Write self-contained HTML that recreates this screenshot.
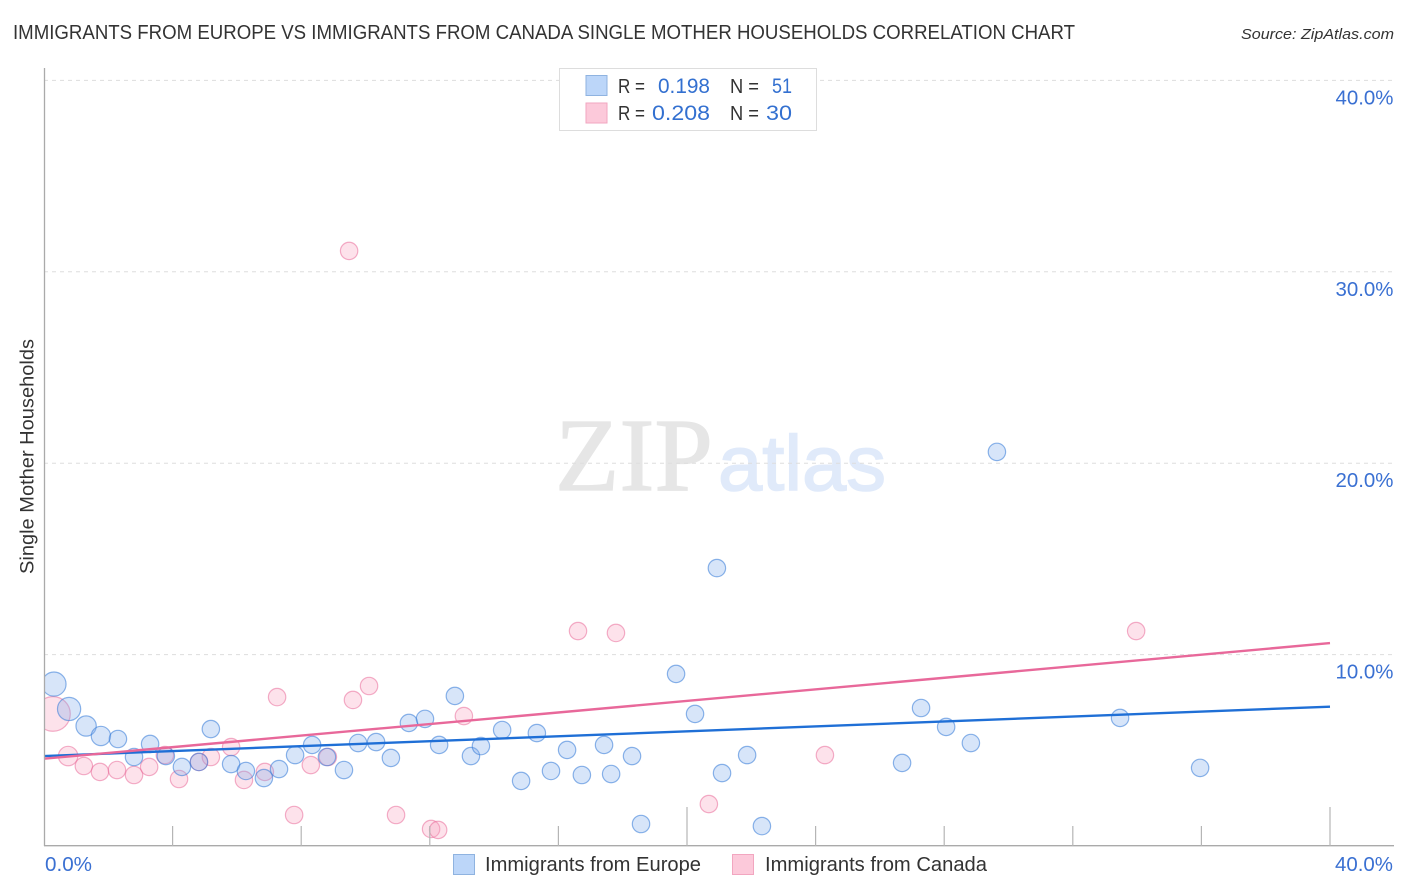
<!DOCTYPE html>
<html lang="en">
<head>
<meta charset="utf-8">
<title>Immigrants from Europe vs Immigrants from Canada Single Mother Households Correlation Chart</title>
<style>
html,body{margin:0;padding:0;background:#fff;width:1406px;height:892px;overflow:hidden}
svg{display:block;font-family:"Liberation Sans",sans-serif}
</style>
</head>
<body>
<svg id="chart" xmlns="http://www.w3.org/2000/svg" width="1406" height="892" viewBox="0 0 1406 892">
  <defs><clipPath id="plot-clip"><rect x="44.5" y="60" width="1350" height="786"/></clipPath></defs>
  <rect width="1406" height="892" fill="#fff"/>
  <text x="13" y="39" font-size="20" fill="#333" textLength="1062" lengthAdjust="spacingAndGlyphs">IMMIGRANTS FROM EUROPE VS IMMIGRANTS FROM CANADA SINGLE MOTHER HOUSEHOLDS CORRELATION CHART</text>
  <text x="1241" y="39" font-size="15" font-style="italic" fill="#333" textLength="153" lengthAdjust="spacingAndGlyphs">Source: ZipAtlas.com</text>
  <g>
    <text x="555" y="490" font-family="'Liberation Serif',serif" font-size="104" fill="#e6e6e6" stroke="#e6e6e6" stroke-width="1.2" textLength="158" lengthAdjust="spacingAndGlyphs">ZIP</text>
    <text x="718" y="490" font-size="78" fill="#e0eafa" stroke="#e0eafa" stroke-width="1.5" textLength="168" lengthAdjust="spacingAndGlyphs">atlas</text>
  </g>
  <g id="grid"></g>
  <g id="points" clip-path="url(#plot-clip)"></g>
  <g id="trends"></g>
  <g id="axes">
    <line x1="44.5" y1="68" x2="44.5" y2="846" stroke="#aaa" stroke-width="1.3"/>
    <line x1="44" y1="845.7" x2="1394" y2="845.7" stroke="#aaa" stroke-width="1.3"/>
  </g>
  <g id="x-ticks"></g>
  <g id="y-labels"></g>
  <g id="x-labels"></g>
  <text transform="translate(33.5,574) rotate(-90)" font-size="19" fill="#333" textLength="235" lengthAdjust="spacingAndGlyphs">Single Mother Households</text>
  <g>
    <rect x="559.5" y="68.5" width="257" height="62" fill="#fff" stroke="#ddd" stroke-width="1"/>
    <rect x="586" y="75.500" width="21" height="20" fill="#bcd6f9" stroke="#8fb3e0" stroke-width="1"/>
    <rect x="586" y="103" width="21" height="20" fill="#fcc9da" stroke="#f2a6c0" stroke-width="1"/>
    <text x="618" y="93" font-size="20" fill="#333" textLength="27" lengthAdjust="spacingAndGlyphs">R =</text>
    <text x="658" y="93" font-size="21" fill="#3370d0" textLength="52" lengthAdjust="spacingAndGlyphs">0.198</text>
    <text x="730" y="93" font-size="20" fill="#333" textLength="29" lengthAdjust="spacingAndGlyphs">N =</text>
    <text x="772" y="93" font-size="21" fill="#3370d0" textLength="20" lengthAdjust="spacingAndGlyphs">51</text>
    <text x="618" y="120" font-size="20" fill="#333" textLength="27" lengthAdjust="spacingAndGlyphs">R =</text>
    <text x="652" y="120" font-size="21" fill="#3370d0" textLength="58" lengthAdjust="spacingAndGlyphs">0.208</text>
    <text x="730" y="120" font-size="20" fill="#333" textLength="29" lengthAdjust="spacingAndGlyphs">N =</text>
    <text x="766" y="120" font-size="21" fill="#3370d0" textLength="26" lengthAdjust="spacingAndGlyphs">30</text>
  </g>
  <g>
    <rect x="453.500" y="854.500" width="21" height="20" fill="#bcd6f9" stroke="#8fb3e0" stroke-width="1"/>
    <text x="485" y="871" font-size="20" fill="#333" textLength="216" lengthAdjust="spacingAndGlyphs">Immigrants from Europe</text>
    <rect x="732.500" y="854.500" width="21" height="20" fill="#fcc9da" stroke="#f2a6c0" stroke-width="1"/>
    <text x="765" y="871" font-size="20" fill="#333" textLength="222" lengthAdjust="spacingAndGlyphs">Immigrants from Canada</text>
  </g>
</svg>
<script>
const yGridValues = [10, 20, 30, 40];
const yTickLabels = ["10.0%", "20.0%", "30.0%", "40.0%"];
const xTickValues = [4, 8, 12, 16, 20, 24, 28, 32, 36, 40];
const xMajorTicks = [20, 40];
const xEdgeLabels = ["0.0%", "40.0%"];

const europeX = [0.31,0.78,1.31,1.77,2.30,2.80,3.30,3.79,4.29,4.82,5.19,5.82,6.28,6.84,7.31,7.81,8.34,8.80,9.33,9.77,10.33,10.79,11.35,11.85,12.29,12.78,13.28,13.59,14.25,14.84,15.33,15.77,16.27,16.73,17.42,17.64,18.29,18.57,19.66,20.25,20.93,21.09,21.87,22.33,26.69,27.28,28.06,28.83,29.64,33.47,35.96];
const europeY = [8.46,7.16,6.27,5.75,5.59,4.65,5.33,4.70,4.13,4.39,6.11,4.28,3.92,3.55,4.02,4.75,5.28,4.65,3.97,5.38,5.43,4.60,6.43,6.64,5.28,7.84,4.70,5.22,6.06,3.40,5.90,3.92,5.02,3.71,5.28,3.76,4.70,1.15,8.99,6.90,14.52,3.81,4.75,1.04,4.34,7.21,6.22,5.38,20.59,6.69,4.08];
const europeWeight = [1.93,1.78,1.36,1.23,1,1,1,1,1,1,1,1,1,1,1,1,1,1,1,1,1,1,1,1,1,1,1,1,1,1,1,1,1,1,1,1,1,1,1,1,1,1,1,1,1,1,1,1,1,1,1];

const canadaX = [0.28,0.75,1.24,1.74,2.27,2.80,3.27,3.76,4.20,4.82,5.19,5.82,6.22,6.87,7.25,7.78,8.30,8.83,9.49,9.61,10.11,10.95,12.04,12.26,13.06,16.61,17.79,20.68,24.29,33.97];
const canadaY = [6.90,4.70,4.18,3.87,3.97,3.71,4.13,4.75,3.50,4.39,4.65,5.17,3.45,3.87,7.78,1.62,4.23,4.65,31.09,7.63,8.36,1.62,0.89,0.84,6.79,11.23,11.13,2.19,4.75,11.23];
const canadaWeight = [3.95,1.25,1,1,1,1,1,1,1,1,1,1,1,1,1,1,1,1,1,1,1,1,1,1,1,1,1,1,1,1];

const europeTrend = [4.70, 7.28];
const canadaTrend = [4.56, 10.60];
const trendDomain = [0, 40];

const NS = "http://www.w3.org/2000/svg";
function xScale(v) { return 44 + v * 32.15; }
function yScale(v) { return 846 - v * 19.14; }
function rScale(w) { return 8.7 * Math.sqrt(w); }
function mk(tag, attrs, parent) {
  const el = document.createElementNS(NS, tag);
  for (const k in attrs) el.setAttribute(k, attrs[k]);
  parent.appendChild(el);
  return el;
}

const grid = document.getElementById("grid");
const yLabels = document.getElementById("y-labels");
yGridValues.forEach(function (v, i) {
  const ln = mk("line", {x1: 44, x2: 1394, y1: yScale(v), y2: yScale(v), stroke: "#ddd", "stroke-width": 1, "stroke-dasharray": "4 4"}, grid);
  
  
  const t = mk("text", {x: 1393.5, y: yScale(v) + 24, "text-anchor": "end", "font-size": 20, fill: "#3a70d2", textLength: 58, lengthAdjust: "spacingAndGlyphs"}, yLabels);
  t.textContent = yTickLabels[i];
  
  
});

const xTicks = document.getElementById("x-ticks");
xTickValues.forEach(function (v) {
  const major = xMajorTicks.indexOf(v) >= 0;
  const tk = mk("line", {x1: xScale(v), x2: xScale(v), y1: major ? 807 : 826, y2: 846, stroke: "#b5b5b5", "stroke-width": 1.2}, xTicks);
  
  
});

const xLabels = document.getElementById("x-labels");
const xl0 = mk("text", {x: 45, y: 871, "font-size": 20, fill: "#3a70d2", textLength: 47, lengthAdjust: "spacingAndGlyphs"}, xLabels);
xl0.textContent = xEdgeLabels[0];


const xl1 = mk("text", {x: 1335, y: 871, "font-size": 20, fill: "#3a70d2", textLength: 58, lengthAdjust: "spacingAndGlyphs"}, xLabels);
xl1.textContent = xEdgeLabels[1];



const points = document.getElementById("points");
canadaX.forEach(function (v, i) {
  const c = mk("circle", {cx: xScale(v), cy: yScale(canadaY[i]), r: rScale(canadaWeight[i]), fill: "rgba(247,160,190,0.3)", stroke: "rgba(233,110,155,0.55)", "stroke-width": 1.2}, points);
  
  
});
europeX.forEach(function (v, i) {
  const c = mk("circle", {cx: xScale(v), cy: yScale(europeY[i]), r: rScale(europeWeight[i]), fill: "rgba(130,175,235,0.32)", stroke: "rgba(50,120,215,0.55)", "stroke-width": 1.2}, points);
  
  
});

const trends = document.getElementById("trends");
const bl = mk("line", {x1: xScale(trendDomain[0]), x2: xScale(trendDomain[1]), y1: yScale(europeTrend[0]), y2: yScale(europeTrend[1]), stroke: "#1f6fd6", "stroke-width": 2.4}, trends);


const pl = mk("line", {x1: xScale(trendDomain[0]), x2: xScale(trendDomain[1]), y1: yScale(canadaTrend[0]), y2: yScale(canadaTrend[1]), stroke: "#e8689a", "stroke-width": 2.4}, trends);


</script>
</body>
</html>
